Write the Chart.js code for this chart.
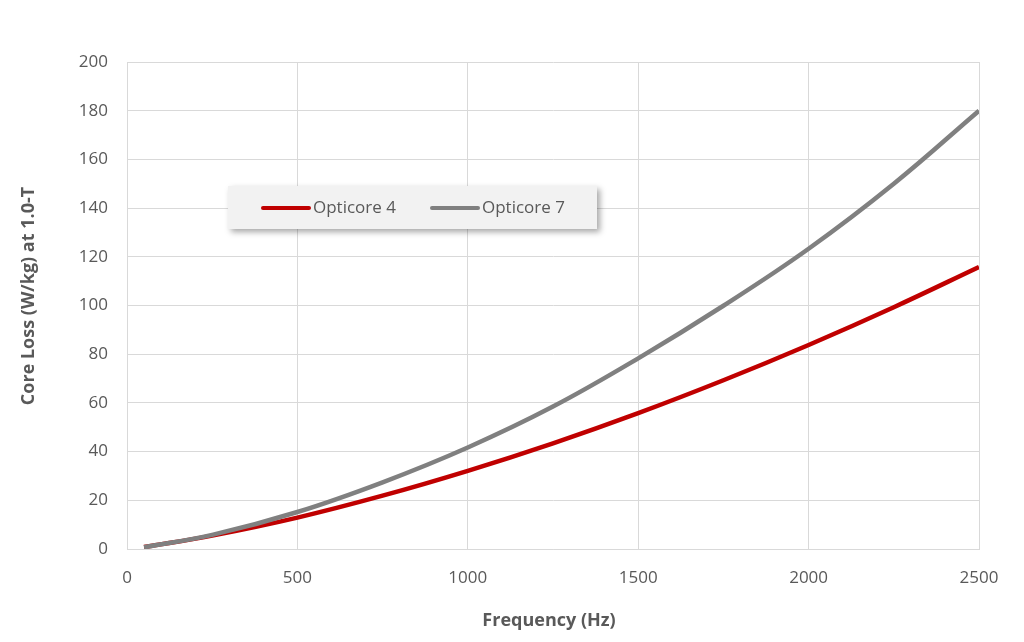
<!DOCTYPE html>
<html>
<head>
<meta charset="utf-8">
<script src="https://cdn.jsdelivr.net/npm/chart.js@4"></script>
<style>
  html, body { margin: 0; padding: 0; background: #fff; }
  #wrap { width: 1024px; height: 642px; }
</style>
</head>
<body>
<div id="wrap"><canvas id="myChart"></canvas></div>
<script>
// frecuencias (Hz) y perdidas (W/kg)
const frecuencias = [50, 250, 500, 750, 1000, 1250, 1500, 1750, 2000, 2250, 2500]
const opticore4 = [0.8, 5.5, 12.9, 21.9, 32.1, 43.4, 55.8, 69.3, 83.8, 99.3, 115.8]
const opticore7 = [0.7, 5.8, 15.2, 27.4, 41.7, 58.5, 78.3, 99.9, 123.3, 150, 180]
const etiquetas = ["Opticore 4", "Opticore 7"]
const colores = ["#c00000", "#808080"]
const tituloX = "Frequency (Hz)"
const tituloY = "Core Loss (W/kg) at 1.0-T"

const fuente = "'Open Sans', sans-serif"
const gris = "#595959"

// leyenda y titulos dibujados a mano (caja con sombra como en Excel)
const extras = {
    id: "extras",
    afterDraw(chart) {
        const ctx = chart.ctx
        ctx.save()
        // caja de la leyenda
        ctx.shadowColor = "rgba(0,0,0,0.35)"
        ctx.shadowBlur = 6
        ctx.shadowOffsetX = 3
        ctx.shadowOffsetY = 3
        ctx.fillStyle = "#f2f2f2"
        ctx.fillRect(228, 186, 369, 43)
        ctx.shadowColor = "transparent"

        ctx.font = "17px " + fuente
        ctx.textBaseline = "middle"
        let x = 263
        chart.data.datasets.forEach(ds => {
            ctx.strokeStyle = ds.borderColor
            ctx.lineWidth = 4
            ctx.lineCap = "round"
            ctx.beginPath()
            ctx.moveTo(x, 208)
            ctx.lineTo(x + 46, 208)
            ctx.stroke()
            ctx.fillStyle = gris
            ctx.textAlign = "left"
            ctx.fillText(ds.label, x + 50, 208)
            x += 169
        })

        // titulos de ejes
        ctx.fillStyle = gris
        ctx.font = "bold 18px " + fuente
        ctx.textAlign = "center"
        ctx.textBaseline = "alphabetic"
        ctx.fillText(tituloX, 549, 626)
        ctx.translate(34, 296)
        ctx.rotate(-Math.PI / 2)
        ctx.fillText(tituloY, 0, 0)
        ctx.restore()
    }
}

const grafico = document.getElementById("myChart").getContext("2d")
const myChart = new Chart(grafico, {
    type: "line",
    data: {
        datasets: [
            {
                label: etiquetas[0],
                data: frecuencias.map((f, i) => ({ x: f, y: opticore4[i] })),
                borderColor: colores[0],
                borderWidth: 4.5,
                pointRadius: 0,
                tension: 0.4,
                order: 1
            },
            {
                label: etiquetas[1],
                data: frecuencias.map((f, i) => ({ x: f, y: opticore7[i] })),
                borderColor: colores[1],
                borderWidth: 4.5,
                pointRadius: 0,
                tension: 0.4,
                order: 0
            }
        ]
    },
    options: {
        responsive: true,
        maintainAspectRatio: false,
        animation: false,
        layout: { padding: { left: 0, top: 62, right: 45, bottom: 0 } },
        plugins: {
            legend: { display: false },
            tooltip: { enabled: false }
        },
        scales: {
            x: {
                type: "linear",
                min: 0,
                max: 2500,
                afterFit: s => { s.height = 93 },
                ticks: {
                    stepSize: 500,
                    padding: 19,
                    color: gris,
                    font: { family: fuente, size: 17 },
                    callback: v => String(v)
                },
                grid: { color: "#d9d9d9", lineWidth: 1, drawTicks: false },
                border: { color: "#d9d9d9" }
            },
            y: {
                min: 0,
                max: 200,
                afterFit: s => { s.width = 127 },
                ticks: { stepSize: 20, padding: 19, color: gris, font: { family: fuente, size: 17 } },
                grid: { color: "#d9d9d9", lineWidth: 1, drawTicks: false },
                border: { color: "#d9d9d9" }
            }
        }
    },
    plugins: [extras]
})
</script>
</body>
</html>
